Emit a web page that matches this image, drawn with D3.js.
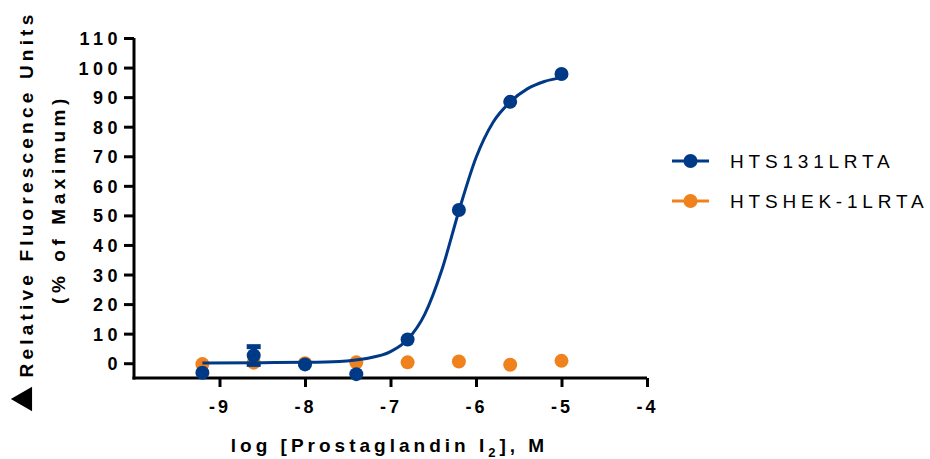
<!DOCTYPE html>
<html>
<head>
<meta charset="utf-8">
<script src="https://cdn.jsdelivr.net/npm/d3@7"></script>
<style>
body { margin: 0; background: #fff; }
text { font-family: "Liberation Sans", Arial, sans-serif; }
</style>
</head>
<body>
<svg id="chart" width="930" height="459"></svg>
<script>
// log concentration of PGI2, M
let log_conc = [-9.2, -8.6, -8.0, -7.4, -6.8, -6.2, -5.6, -5.0];

let hts131 = [-3.2, 2.6, -0.4, -3.7, 8.0, 51.8, 88.4, 97.8];
let hts131_err = [0, 3.0, 0, 0, 0, 0, 0, 0];
let hshek = [-0.3, 0.2, 0.0, 0.3, 0.3, 0.6, -0.5, 0.8];

// fitted curve for HTS131LRTA
let fit_x = [-9.2, -8.5, -8.0, -7.6, -7.3, -7.0, -6.8, -6.6, -6.4, -6.2, -6.0, -5.8, -5.6, -5.4, -5.2, -5.0];
let fit_y = [0.1, 0.2, 0.3, 0.6, 1.5, 3.9, 8.0, 16.5, 31.5, 51.5, 69.5, 81.5, 88.4, 92.8, 95.3, 96.6];

let x_ticks = [-9, -8, -7, -6, -5, -4];
let y_ticks = [0, 10, 20, 30, 40, 50, 60, 70, 80, 90, 100, 110];

let series_names = ["HTS131LRTA", "HTSHEK-1LRTA"];
let series_colors = ["#003a87", "#f0821e"];

let svg = d3.select("#chart");

let x = d3.scaleLinear().domain([-10, -4]).range([134, 647]);
let y = d3.scaleLinear().domain([-5, 110]).range([378, 38]);

// axes
let x_axis = svg.append("g")
    .attr("transform", "translate(0," + y(-5) + ")")
    .call(d3.axisBottom(x).tickValues(x_ticks).tickSize(9).tickPadding(13)
        .tickFormat(function (d) { return String(d); }).tickSizeOuter(0));

let y_axis = svg.append("g")
    .attr("transform", "translate(" + x(-10) + ",0)")
    .call(d3.axisLeft(y).tickValues(y_ticks).tickSize(10).tickPadding(2).tickSizeOuter(0));

[x_axis, y_axis].forEach(function (a) {
    a.select(".domain").attr("stroke", "#000").attr("stroke-width", 3);
    a.selectAll(".tick line").attr("stroke", "#000").attr("stroke-width", 3);
    a.selectAll(".tick text")
        .attr("fill", "#000")
        .style("font-size", "18px")
        .style("font-weight", "bold");
});
x_axis.selectAll(".tick text").style("letter-spacing", "3px");
y_axis.selectAll(".tick text").style("letter-spacing", "4.5px");
x_axis.select(".domain").attr("d", "M" + (x(-10) - 1.5) + ",0H" + x(-4));
y_axis.select(".domain").attr("d", "M0," + (y(-5) + 1.5) + "V" + y(110));
y_axis.selectAll(".tick text").attr("dy", "0.36em");

// curve
let line = d3.line()
    .x(function (d, i) { return x(fit_x[i]); })
    .y(function (d) { return y(d); })
    .curve(d3.curveMonotoneX);

// orange series first, blue on top
let g_orange = svg.append("g");
g_orange.selectAll("circle")
    .data(hshek)
    .enter().append("circle")
    .attr("cx", function (d, i) { return x(log_conc[i]); })
    .attr("cy", function (d) { return y(d); })
    .attr("r", 7)
    .attr("fill", series_colors[1]);

svg.append("path")
    .datum(fit_y)
    .attr("d", line)
    .attr("fill", "none")
    .attr("stroke", series_colors[0])
    .attr("stroke-width", 3);

let g_blue = svg.append("g");
hts131_err.forEach(function (e, i) {
    if (e <= 0) return;
    let cx = x(log_conc[i]);
    g_blue.append("line")
        .attr("x1", cx).attr("x2", cx)
        .attr("y1", y(hts131[i] + e)).attr("y2", y(hts131[i] - e))
        .attr("stroke", series_colors[0]).attr("stroke-width", 3);
    [hts131[i] + e, hts131[i] - e].forEach(function (v) {
        g_blue.append("line")
            .attr("x1", cx - 7).attr("x2", cx + 7)
            .attr("y1", y(v)).attr("y2", y(v))
            .attr("stroke", series_colors[0]).attr("stroke-width", 5);
    });
});
g_blue.selectAll("circle")
    .data(hts131)
    .enter().append("circle")
    .attr("cx", function (d, i) { return x(log_conc[i]); })
    .attr("cy", function (d) { return y(d); })
    .attr("r", 7)
    .attr("fill", series_colors[0]);

// axis titles
svg.append("text")
    .attr("x", x(-7) - 1)
    .attr("y", 452)
    .attr("text-anchor", "middle")
    .style("font-size", "19px")
    .style("font-weight", "bold")
    .style("letter-spacing", "4px")
    .html('log [Prostaglandin I<tspan dy="5" style="font-size:13px">2</tspan><tspan dy="-5">], M</tspan>');

let y_title = svg.append("g")
    .attr("transform", "translate(0,194) rotate(-90)");
y_title.append("text")
    .attr("x", 0).attr("y", 33)
    .attr("text-anchor", "middle")
    .style("font-size", "19px")
    .style("font-weight", "bold")
    .style("letter-spacing", "4.2px")
    .text("Relative Fluorescence Units");
y_title.append("text")
    .attr("x", -5).attr("y", 65)
    .attr("text-anchor", "middle")
    .style("font-size", "19px")
    .style("font-weight", "bold")
    .style("letter-spacing", "4.6px")
    .text("(% of Maximum)");

// the triangle glyph that leads the y title
svg.append("path")
    .attr("d", d3.symbol(d3.symbolTriangle, 260)())
    .attr("transform", "translate(25,399) rotate(-90)")
    .attr("fill", "#000");

// legend
let legend = svg.append("g")
    .selectAll("g")
    .data(series_names)
    .enter().append("g")
    .attr("transform", function (d, i) { return "translate(672," + (161 + i * 40) + ")"; });
legend.append("line")
    .attr("x1", 0).attr("x2", 37)
    .attr("stroke", function (d, i) { return series_colors[i]; })
    .attr("stroke-width", 3);
legend.append("circle")
    .attr("cx", 18.5).attr("r", 7)
    .attr("fill", function (d, i) { return series_colors[i]; });
legend.append("text")
    .attr("x", 58).attr("y", 0)
    .attr("dy", "0.36em")
    .style("font-size", "19px")
    .style("letter-spacing", "4.8px")
    .text(function (d) { return d; });
</script>
</body>
</html>
